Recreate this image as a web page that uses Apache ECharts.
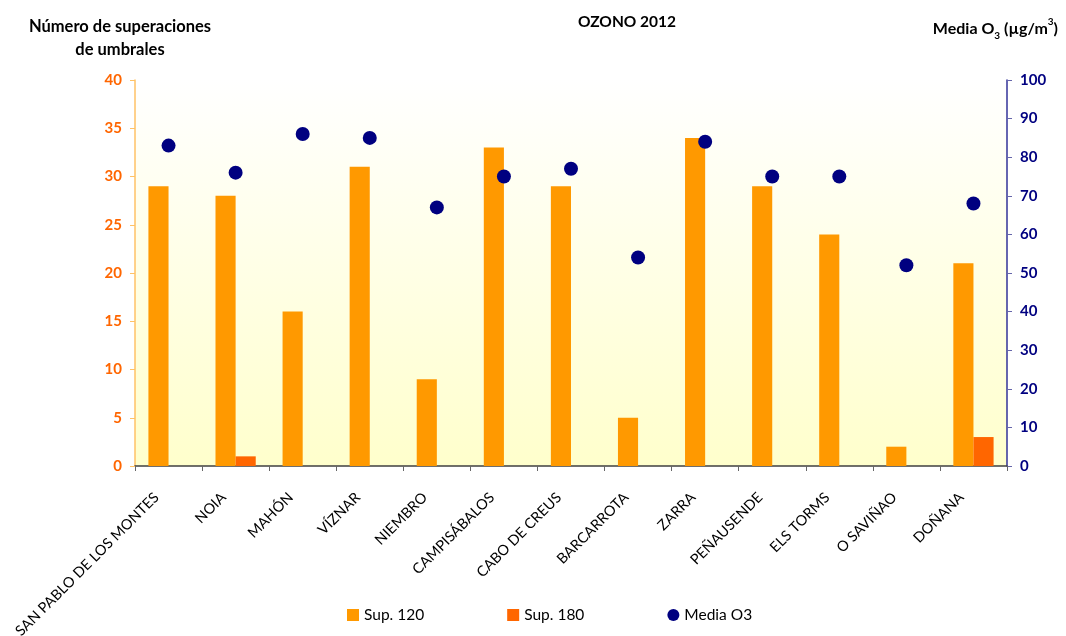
<!DOCTYPE html>
<html>
<head>
<meta charset="utf-8">
<title>OZONO 2012</title>
<script src="https://cdn.jsdelivr.net/npm/echarts@6/dist/echarts.min.js"></script>
<style>
  html, body { margin: 0; padding: 0; background: #ffffff; }
  #chart { width: 1066px; height: 636px; }
</style>
</head>
<body>
<div id="chart"></div>
<script>
// Estaciones de la red EMEP/VAG/CAMP
const estaciones = ['SAN PABLO DE LOS MONTES', 'NOIA', 'MAHÓN', 'VÍZNAR', 'NIEMBRO',
  'CAMPISÁBALOS', 'CABO DE CREUS', 'BARCARROTA', 'ZARRA', 'PEÑAUSENDE',
  'ELS TORMS', 'O SAVIÑAO', 'DOÑANA'];
// Número de superaciones del umbral de información (120) y de alerta (180)
const sup120 = [29, 28, 16, 31, 9, 33, 29, 5, 34, 29, 24, 2, 21];
const sup180 = [0, 1, 0, 0, 0, 0, 0, 0, 0, 0, 0, 0, 3];
// Media anual de O3 (µg/m3)
const mediaO3 = [83, 76, 86, 85, 67, 75, 77, 54, 84, 75, 75, 52, 68];

const FONT = 'Lato, "Open Sans", sans-serif';

const chart = echarts.init(document.getElementById('chart'), null, { renderer: 'canvas' });

chart.setOption({
  backgroundColor: '#ffffff',
  textStyle: { fontFamily: FONT },
  animation: false,
  title: [
    {
      text: 'OZONO 2012',
      left: 622, top: 9, textAlign: 'center',
      textStyle: { fontSize: 15.5, fontWeight: 'bold', color: '#000000', fontFamily: FONT }
    },
    {
      text: 'Número de superaciones\nde umbrales',
      left: 115, top: 10, textAlign: 'center',
      textStyle: { fontSize: 16.5, fontWeight: 'bold', color: '#000000', fontFamily: FONT, lineHeight: 23, align: 'center' }
    },
    {
      text: '{n|Media O}{s|3}{n| (µg/m}{p|3}{n|)}',
      right: 3, top: 12,
      textStyle: {
        fontFamily: FONT,
        rich: {
          n: { fontSize: 16, fontWeight: 'bold', color: '#000000', fontFamily: FONT, lineHeight: 24, verticalAlign: 'middle' },
          s: { fontSize: 10, fontWeight: 'bold', color: '#000000', fontFamily: FONT, lineHeight: 24, verticalAlign: 'bottom' },
          p: { fontSize: 10, fontWeight: 'bold', color: '#000000', fontFamily: FONT, lineHeight: 24, verticalAlign: 'top' }
        }
      }
    }
  ],
  legend: {
    bottom: 8,
    left: 342,
    itemGap: 83,
    itemWidth: 12,
    itemHeight: 12,
    textStyle: { fontSize: 15.5, color: '#000000', fontFamily: FONT },
    data: [
      { name: 'Sup. 120', icon: 'rect' },
      { name: 'Sup. 180', icon: 'rect' },
      { name: 'Media O3', icon: 'circle' }
    ]
  },
  grid: {
    left: 135, right: 59, top: 80, bottom: 170,
    outerBoundsMode: 'none',
    containLabel: false,
    show: true,
    borderWidth: 0,
    backgroundColor: new echarts.graphic.LinearGradient(0, 0, 0, 1, [
      { offset: 0, color: '#ffffff' },
      { offset: 1, color: '#ffffcc' }
    ])
  },
  xAxis: {
    type: 'category',
    data: estaciones,
    axisLine: { lineStyle: { color: '#404040', width: 1.5 } },
    axisTick: { show: true, length: 5, alignWithLabel: false, lineStyle: { color: '#666666' } },
    axisLabel: {
      rotate: 45, interval: 0, fontSize: 14.5, color: '#000000', fontFamily: FONT,
      margin: 17, padding: [0, 17, 0, 0]
    },
    splitLine: { show: false }
  },
  yAxis: [
    {
      type: 'value', min: 0, max: 40, interval: 5,
      position: 'left',
      axisLine: { show: true, lineStyle: { color: '#ffc266', width: 1.5 } },
      axisTick: { show: true, length: 5, lineStyle: { color: '#ffc266' } },
      axisLabel: { fontSize: 15, fontWeight: 'bold', color: '#ff6600', fontFamily: FONT, margin: 13 },
      splitLine: { show: false }
    },
    {
      type: 'value', min: 0, max: 100, interval: 10,
      position: 'right',
      axisLine: { show: true, lineStyle: { color: '#333399', width: 1.5 } },
      axisTick: { show: true, length: 5, lineStyle: { color: '#6666aa' } },
      axisLabel: { fontSize: 15, fontWeight: 'bold', color: '#000080', fontFamily: FONT, margin: 13 },
      splitLine: { show: false }
    }
  ],
  series: [
    {
      name: 'Sup. 120', type: 'bar', yAxisIndex: 0,
      data: sup120,
      barGap: '0%', barCategoryGap: '40%',
      itemStyle: { color: '#ff9900' }
    },
    {
      name: 'Sup. 180', type: 'bar', yAxisIndex: 0,
      data: sup180,
      barGap: '0%', barCategoryGap: '40%',
      itemStyle: { color: '#ff6600' }
    },
    {
      name: 'Media O3', type: 'scatter', yAxisIndex: 1,
      data: mediaO3,
      symbol: 'circle', symbolSize: 14,
      itemStyle: { color: '#000080', opacity: 1 },
      z: 5
    }
  ]
});
</script>
</body>
</html>
